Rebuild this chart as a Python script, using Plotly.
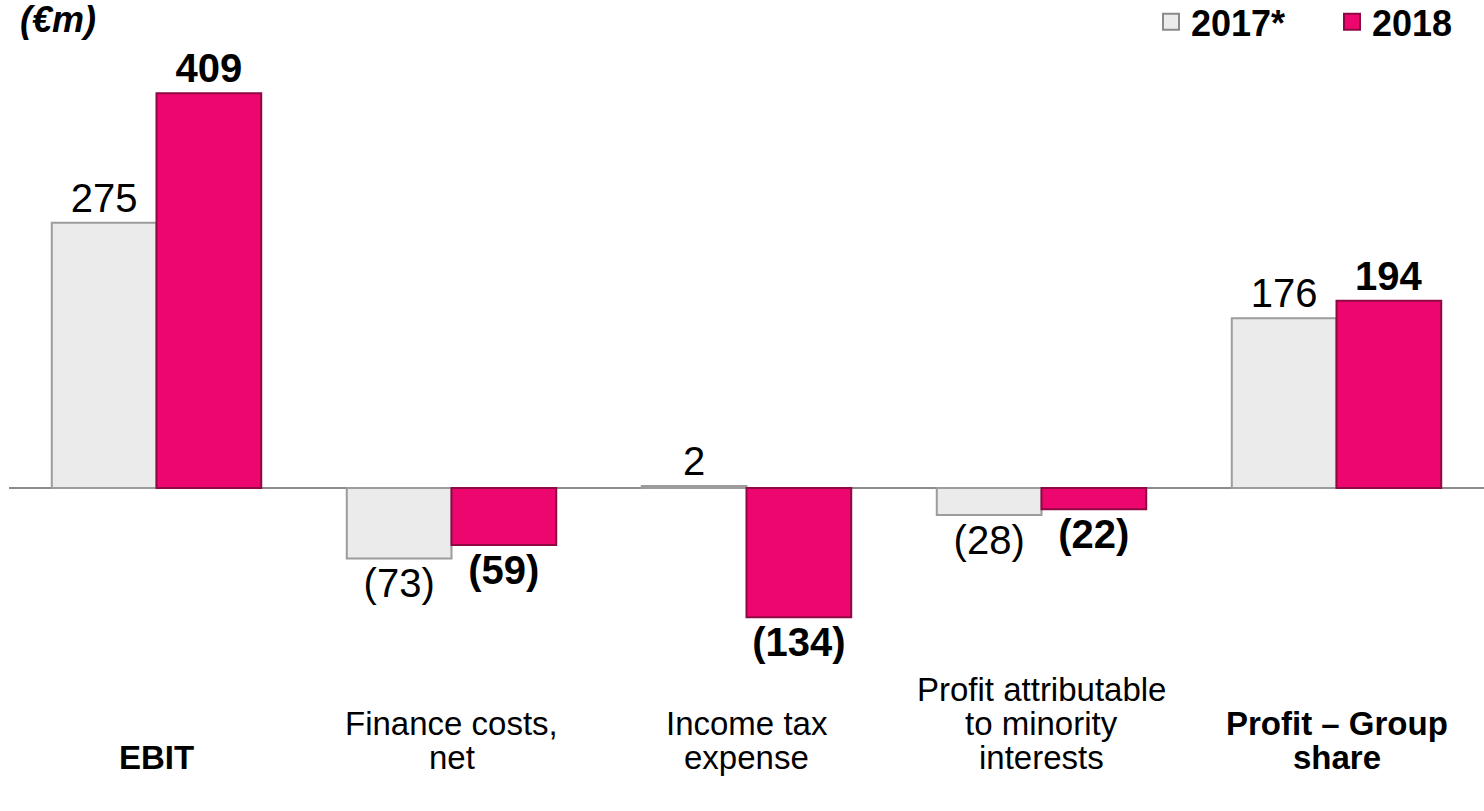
import plotly.graph_objects as go

# ---- data ----
categories = ["EBIT", "Finance costs, net", "Income tax expense",
              "Profit attributable to minority interests", "Profit – Group share"]
category_lines = [["EBIT"], ["Finance costs,", "net"], ["Income tax", "expense"],
                  ["Profit attributable", "to minority", "interests"], ["Profit – Group", "share"]]
category_bold = [True, False, False, False, True]
series_names = ["2017*", "2018"]
values_2017 = [275, -73, 2, -28, 176]
values_2018 = [409, -59, -134, -22, 194]
unit_label = "(€m)"

FONT = "Arial, 'Liberation Sans', sans-serif"
GREY_FILL = "#ebebeb"
GREY_LINE = "#9c9c9c"
PINK_FILL = "#ec066e"
PINK_LINE = "#8e0844"


def fmt(v):
    return f"({abs(v)})" if v < 0 else f"{v}"


fig = go.Figure()
fig.add_trace(go.Bar(
    x=categories, y=values_2017, name=series_names[0], showlegend=False,
    marker=dict(color=GREY_FILL, line=dict(color=GREY_LINE, width=2)),
    text=[fmt(v) for v in values_2017], textposition="outside",
    textfont=dict(family=FONT, size=40, color="black"),
    constraintext="none", cliponaxis=False,
))
fig.add_trace(go.Bar(
    x=categories, y=values_2018, name=series_names[1], showlegend=False,
    marker=dict(color=PINK_FILL, line=dict(color=PINK_LINE, width=2)),
    text=[f"<b>{fmt(v)}</b>" for v in values_2018], textposition="outside",
    textfont=dict(family=FONT, size=40, color="black"),
    constraintext="none", cliponaxis=False,
))
# legend entries
for name, fill, line in [(series_names[0], GREY_FILL, "#8a8a8a"), (series_names[1], PINK_FILL, PINK_LINE)]:
    fig.add_trace(go.Scatter(
        x=[None], y=[None], mode="markers", name=f"<b>{name}</b>",
        marker=dict(symbol="square", size=16, color=fill, line=dict(color=line, width=2)),
    ))

annotations = []
line_step = 34 / 661
for cat, lines, bold in zip(categories, category_lines, category_bold):
    n = len(lines)
    for i, ln in enumerate(lines):
        txt = f"<b>{ln}</b>" if bold else ln
        annotations.append(dict(
            x=cat, xref="x", y=-0.0696 + (n - 1 - i) * line_step, yref="paper",
            text=txt, showarrow=False, xanchor="center", yanchor="middle",
            font=dict(family=FONT, size=33, color="black"),
        ))
annotations.append(dict(
    x=0.006, xref="paper", y=1.046, yref="paper", text=f"<b><i>{unit_label}</i></b>",
    showarrow=False, xanchor="left", yanchor="middle",
    font=dict(family=FONT, size=36, color="black"),
))

fig.update_layout(
    width=1484, height=811,
    margin=dict(l=9, r=0, t=50, b=100, autoexpand=False),
    paper_bgcolor="white", plot_bgcolor="white",
    barmode="group", bargap=0.29, bargroupgap=0,
    font=dict(family=FONT, color="black"),
    annotations=annotations,
    legend=dict(
        orientation="h", xref="container", yref="container",
        x=0.7756, xanchor="left", y=0.973, yanchor="middle",
        font=dict(family=FONT, size=36, color="black"),
        bgcolor="rgba(0,0,0,0)", itemsizing="trace",
        entrywidth=136, tracegroupgap=0,
    ),
    xaxis=dict(showticklabels=False, showgrid=False, zeroline=False, showline=False,
               range=[-0.5, 4.5], fixedrange=True),
    yaxis=dict(range=[-231.1, 453.9], showticklabels=False, showgrid=False,
               zeroline=True, zerolinecolor="#8c8c8c", zerolinewidth=2, showline=False),
)

fig.write_html("out.html")
